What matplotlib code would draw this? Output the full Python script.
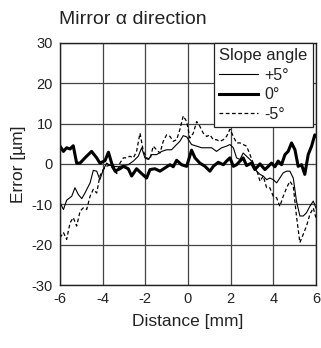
import matplotlib
matplotlib.use("Agg")
import matplotlib.pyplot as plt

plt.rcParams['font.family'] = ['Liberation Sans', 'DejaVu Sans']
plt.rcParams['axes.unicode_minus'] = False

# 0 deg (thick)
x0 = [-6.00, -5.84, -5.69, -5.53, -5.38, -5.22, -5.06, -4.83, -4.52, -4.28, -4.13, -3.89, -3.73,
      -3.58, -3.42, -3.19, -3.03, -2.80, -2.64, -2.41, -2.17, -1.94, -1.78, -1.55, -1.31, -1.08,
      -0.84, -0.69, -0.53, -0.30, -0.06, 0.17, 0.33, 0.56, 0.80, 1.03, 1.19, 1.42, 1.66, 1.81,
      1.97, 2.13, 2.28, 2.44, 2.59, 2.75, 2.98, 3.14, 3.38, 3.61, 3.77, 3.92, 4.08, 4.23, 4.39,
      4.55, 4.70, 4.86, 5.02, 5.17, 5.33, 5.48, 5.64, 5.80, 5.95, 6.00]
y0 = [4.4, 3.1, 4.0, 3.7, 4.5, 0.2, 0.2, 1.5, 3.1, 1.5, 0.2, 0.8, 2.9,
      0.2, -1.8, -1.2, -0.6, -1.2, -3.0, -1.2, -2.4, -3.5, -1.4, -1.2, -1.8, -1.0,
      -0.2, -0.7, 0.9, -0.2, -0.6, 3.4, 1.5, 0.2, -0.6, -1.8, -0.6, 0.4, -0.2, 0.7,
      1.5, -0.6, -0.2, 0.7, 1.5, -0.4, 0.2, -1.4, 0.0, -1.4, -0.6, 0.2, -0.7, 0.7, -0.2,
      2.3, 3.1, 5.2, 3.5, -0.6, -0.2, -2.6, 2.3, 4.4, 7.2, 7.0]

# +5 deg (thin)
xp = [-6.00, -5.84, -5.69, -5.45, -5.30, -5.14, -4.98, -4.83, -4.59, -4.44, -4.28, -4.13, -3.97,
      -3.81, -3.66, -3.50, -3.27, -3.03, -2.80, -2.56, -2.33, -2.17, -2.02, -1.86, -1.70, -1.47,
      -1.23, -1.00, -0.77, -0.53, -0.38, -0.22, -0.06, 0.17, 0.41, 0.64, 0.88, 1.11, 1.34, 1.58,
      1.81, 1.97, 2.13, 2.28, 2.44, 2.59, 2.75, 2.91, 3.06, 3.22, 3.38, 3.53, 3.69, 3.84, 4.00,
      4.16, 4.31, 4.47, 4.63, 4.78, 4.94, 5.09, 5.25, 5.41, 5.56, 5.72, 5.88, 6.00]
yp = [-9.6, -11.3, -9.0, -8.0, -5.9, -7.6, -8.6, -7.2, -4.7, -1.6, -1.8, -3.9, -1.4,
      0.2, -0.4, -0.6, -0.7, -0.4, -0.2, 0.7, 1.9, 4.0, 1.5, 1.1, 2.3, 2.3,
      3.1, 3.5, 3.5, 4.8, 5.6, 7.0, 6.7, 4.8, 4.4, 4.0, 4.0, 4.0, 3.1, 4.0,
      4.4, 4.8, 4.0, 1.5, 1.1, 2.7, 1.9, 1.1, 0.2, -1.8, -2.6, -3.0, -3.9, -3.5, -3.9,
      -4.7, -3.5, -2.2, -1.8, -1.8, -3.5, -9.2, -12.9, -12.9, -12.1, -10.5, -9.2, -10.9]

# -5 deg (dashed)
xm = [-6.00, -5.84, -5.69, -5.53, -5.38, -5.22, -5.06, -4.91, -4.75, -4.59, -4.44, -4.28, -4.13,
      -3.97, -3.81, -3.66, -3.50, -3.34, -3.19, -3.03, -2.88, -2.72, -2.56, -2.41, -2.25, -2.09,
      -1.94, -1.78, -1.63, -1.47, -1.31, -1.16, -1.00, -0.84, -0.69, -0.53, -0.38, -0.22, -0.06,
      0.09, 0.25, 0.41, 0.56, 0.72, 0.88, 1.03, 1.19, 1.34, 1.50, 1.66, 1.81, 1.97, 2.13, 2.28,
      2.44, 2.59, 2.75, 2.91, 3.06, 3.22, 3.38, 3.53, 3.69, 3.84, 4.00, 4.16, 4.31, 4.47, 4.63,
      4.78, 4.94, 5.09, 5.25, 5.41, 5.56, 5.72, 5.88, 6.00]
ym = [-18.3, -17.0, -18.7, -14.6, -13.3, -15.4, -11.7, -10.9, -11.3, -8.0, -6.3, -7.2, -3.0,
      -1.4, -0.6, -0.2, -1.4, -2.4, 0.2, 1.5, 1.5, 1.9, 1.5, 3.1, 7.6, 3.1,
      1.5, 1.1, 4.4, 3.5, 2.7, 5.6, 7.2, 6.8, 5.6, 6.0, 8.5, 11.9, 10.5,
      6.4, 7.6, 10.5, 9.3, 7.6, 6.8, 7.2, 6.0, 6.0, 5.6, 6.0, 6.8, 8.6, 6.8, 5.2,
      5.2, 4.8, 4.4, 2.3, 0.2, -1.4, -4.3, -3.0, -5.9, -5.9, -8.0, -8.4, -10.5, -8.0, -5.9,
      -4.3, -5.5, -12.9, -19.5, -17.4, -15.4, -12.5, -10.9, -13.3]

xticks = [-6, -4, -2, 0, 2, 4, 6]
yticks = [-30, -20, -10, 0, 10, 20, 30]
labels = ["+5°", "0°", "-5°"]

fig = plt.figure(figsize=(3.21, 3.48), dpi=100)
ax = fig.add_axes([0.187, 0.181, 0.797, 0.696])

ax.plot(xp, yp, color='black', lw=0.8, label=labels[0])
ax.plot(x0, y0, color='black', lw=2.2, label=labels[1])
ax.plot(xm, ym, color='black', lw=0.9, linestyle=(0, (3, 2)), label=labels[2])

ax.set_xlim(-6, 6)
ax.set_ylim(-30, 30)
ax.set_xticks(xticks)
ax.set_yticks(yticks)
ax.grid(True, color='#444444', lw=0.9)
ax.tick_params(length=0, labelsize=10.5, colors='#222222', pad=5)
for s in ax.spines.values():
    s.set_color('#222222')
    s.set_linewidth(1.0)

ax.set_xlabel("Distance [mm]", fontsize=12.5, color='#222222', labelpad=6)
ax.set_ylabel("Error [µm]", fontsize=12.5, color='#222222', labelpad=4)
fig.text(0.184, 0.945, "Mirror α direction", fontsize=14, color='#222222', ha='left', va='center')

leg = ax.legend(title="Slope angle", loc='upper right', bbox_to_anchor=(0.99, 1.0),
                fontsize=11.5, title_fontsize=12, frameon=True, fancybox=False,
                framealpha=1, edgecolor='#222222', handlelength=2.4, handletextpad=0.4,
                borderpad=0.35, labelspacing=0.28, borderaxespad=0.0)
leg._legend_box.align = "left"
leg.get_frame().set_linewidth(0.9)
for t in leg.get_texts():
    t.set_color('#222222')
leg.get_title().set_color('#222222')

fig.savefig("out.png", dpi=100)
